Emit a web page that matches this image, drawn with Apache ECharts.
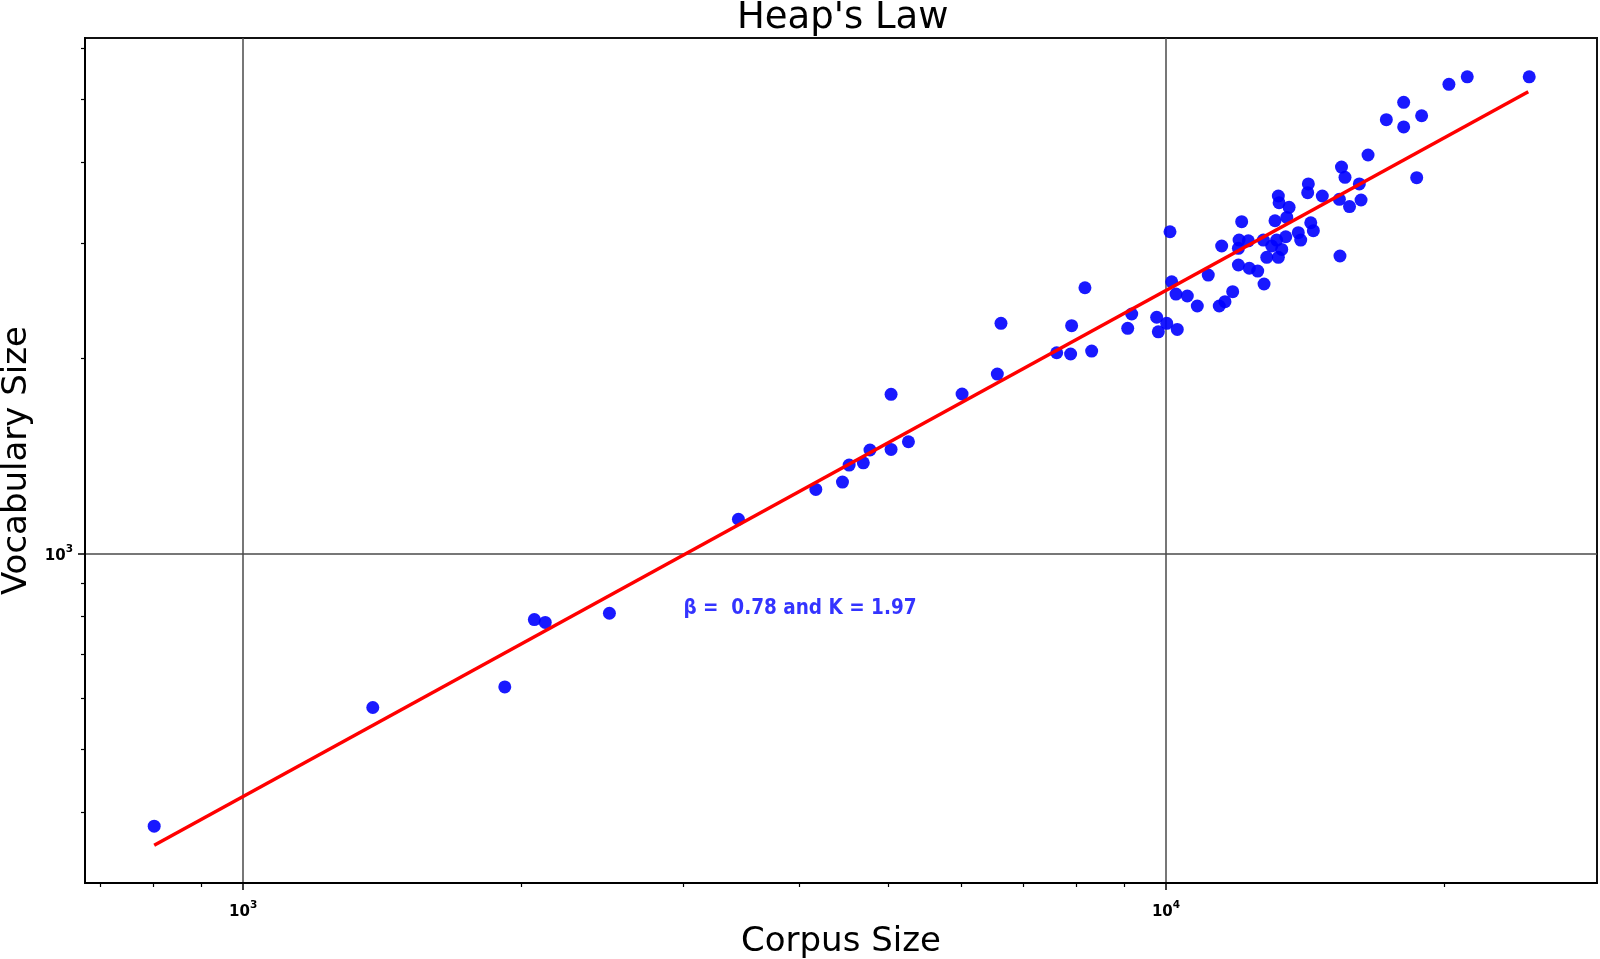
<!DOCTYPE html>
<html>
<head>
<meta charset="utf-8">
<script src="https://cdn.jsdelivr.net/npm/echarts@6/dist/echarts.min.js"></script>
<style>
  html, body { margin: 0; padding: 0; background: #fff; }
  #chart { width: 1600px; height: 959px; }
</style>
</head>
<body>
<div id="chart"></div>
<script>
// corpus size (tokens) vs vocabulary size
const corpusSize = [
  801, 1382, 1921, 2068, 2125, 2494, 3441, 4174, 4461, 4536,
  4699, 4778, 5036, 5036, 5259, 6012, 6565, 6625, 7613, 7882,
  7902, 8169, 8307, 9089, 9180, 9770, 9810, 10018, 10285, 10100,
  10143, 10252, 10546, 10812, 11112, 11421, 11585, 11810, 11490, 12000,
  11980, 12078, 12280, 11980, 12311, 12571, 12771, 12749, 13020, 12858,
  13235, 13348, 13180, 13482, 13125, 13235, 13260, 13595, 13517, 13911,
  13995, 14350, 14443, 14264, 14241, 14769, 15494, 15630, 15412, 15807,
  15435, 16198, 16268, 16555, 17328, 18094, 18094, 18692, 18923, 20256,
  21204, 24750
]
const vocabSize = [
  381, 580, 624, 792, 784, 810, 1130, 1256, 1289, 1369,
  1380, 1444, 1447, 1759, 1487, 1761, 1890, 2262, 2038, 2029,
  2243, 2566, 2050, 2222, 2338, 2311, 2195, 2262, 2214, 3129,
  2621, 2509, 2492, 2405, 2684, 2405, 2442, 2530, 2975, 3038,
  2950, 3242, 3030, 2781, 2749, 2722, 2600, 3038, 2975, 2858,
  2858, 2939, 3038, 3074, 3253, 3551, 3467, 3411, 3292, 3118,
  3038, 3230, 3141, 3706, 3593, 3551, 3934, 3794, 3510, 3421,
  2871, 3706, 3501, 4106, 4653, 4949, 4535, 3789, 4719, 5275,
  5417, 5417
]
// fitted power law, the two ends as drawn
const fitCorpus = [801, 24690]
const fitVocab = [356, 5138]

const xMajorTicks = [1000, 10000]
const xMinorTicks = [700, 800, 900, 2000, 3000, 4000, 5000, 6000, 7000, 8000, 9000, 20000]
const yMajorTicks = [1000]
const yMinorTicks = [400, 500, 600, 700, 800, 900, 2000, 3000, 4000, 5000, 6000]

const annotText = 'β =  0.78 and K = 1.97'
const annotAt = [3000, 824]

const FONT = 'DejaVu Sans'
// "10" with a raised exponent, like matplotlib's log labels
const pow10Label = v => '{b|10}{s|' + Math.round(Math.log10(v)) + '}'
const powRich = {
  b: { fontFamily: FONT, fontWeight: 'bold', fontSize: 15, lineHeight: 20, verticalAlign: 'bottom', color: '#000' },
  s: { fontFamily: FONT, fontWeight: 'bold', fontSize: 10.5, lineHeight: 12, verticalAlign: 'top', color: '#000' }
}

const xRange = [674, 29310]
const yRange = [311.5, 6215]

function majorAxis(range, ticks, pos, margin) {
  return {
    type: 'log', logBase: 10, min: range[0], max: range[1], position: pos,
    axisLine: { show: true, lineStyle: { color: '#000', width: 2 } },
    axisTick: { show: true, customValues: ticks, length: 7, lineStyle: { color: '#000', width: 1.5 } },
    axisLabel: { show: true, customValues: ticks, formatter: pow10Label, margin: margin, rich: powRich },
    splitLine: { show: true, lineStyle: { color: '#4a4a4a', width: 1.5 } },
    nameTextStyle: { fontFamily: FONT, fontSize: 34, color: '#000' }
  }
}
function minorAxis(range, ticks, pos) {
  return {
    type: 'log', logBase: 10, min: range[0], max: range[1], position: pos,
    axisLine: { show: false },
    axisTick: { show: true, customValues: ticks, length: 4, lineStyle: { color: '#000', width: 1.2 } },
    axisLabel: { show: false },
    splitLine: { show: false }
  }
}

const xMain = majorAxis(xRange, xMajorTicks, 'bottom', 17)
xMain.name = 'Corpus Size'; xMain.nameLocation = 'middle'; xMain.nameGap = 42
const yMain = majorAxis(yRange, yMajorTicks, 'left', 12)
yMain.name = 'Vocabulary Size'; yMain.nameLocation = 'middle'; yMain.nameGap = 48

const chart = echarts.init(document.getElementById('chart'), null, { renderer: 'canvas' })
chart.setOption({
  animation: false,
  backgroundColor: '#fff',
  title: {
    text: "Heap's Law", left: 737, top: 0, padding: 0,
    textStyle: { fontFamily: FONT, fontSize: 37, fontWeight: 'normal', color: '#000' }
  },
  grid: { left: 85, right: 3, top: 38, bottom: 76, containLabel: false, outerBoundsMode: 'none',
    show: true, borderColor: '#111', borderWidth: 2 },
  xAxis: [xMain, minorAxis(xRange, xMinorTicks, 'bottom')],
  yAxis: [yMain, minorAxis(yRange, yMinorTicks, 'left')],
  series: [
    {
      type: 'scatter', name: 'data', z: 2,
      data: corpusSize.map((c, i) => [c, vocabSize[i]]),
      symbol: 'circle', symbolSize: 13,
      itemStyle: { color: '#0000ff', opacity: 0.9 }
    },
    {
      type: 'line', name: 'fit', z: 3,
      data: fitCorpus.map((c, i) => [c, fitVocab[i]]),
      showSymbol: false, symbol: 'none',
      lineStyle: { color: '#ff0000', width: 3.5 }
    },
    {
      // text annotation anchored in data coordinates
      type: 'scatter', name: 'annot', z: 4, silent: true,
      data: [annotAt], symbolSize: 0,
      label: { show: true, position: 'right', distance: 0, formatter: annotText,
        fontFamily: "'DejaVu Sans Condensed', 'DejaVu Sans'", fontWeight: 'bold', fontSize: 20.5, color: '#0000ff' }
    }
  ]
})
</script>
</body>
</html>
